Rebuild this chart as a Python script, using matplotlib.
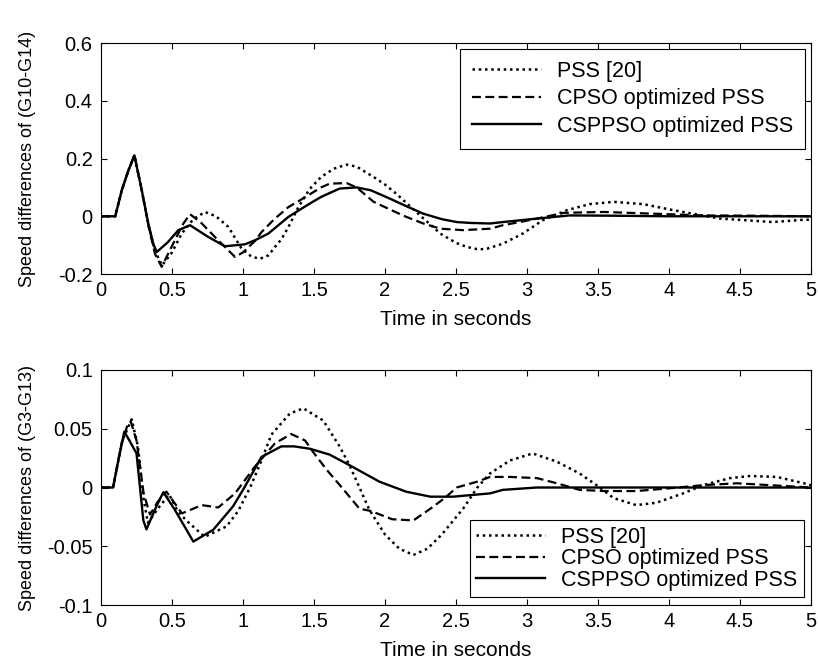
import matplotlib
matplotlib.use("Agg")
import matplotlib.pyplot as plt
from matplotlib.ticker import FuncFormatter

plt.rcParams["font.family"] = ["Liberation Sans", "DejaVu Sans"]
plt.rcParams["font.size"] = 14

# top panel: speed difference G10-G14
top_pss_t = [0, 0.1, 0.146, 0.193, 0.235, 0.287, 0.333, 0.38, 0.43, 0.5, 0.568, 0.65, 0.732,
             0.81, 0.897, 0.99, 1.06, 1.12, 1.18, 1.225, 1.27, 1.32, 1.39, 1.47, 1.55, 1.64,
             1.73, 1.8, 1.92, 2.0, 2.08, 2.22, 2.39, 2.5, 2.575, 2.66, 2.72, 2.83, 2.97, 3.11,
             3.28, 3.44, 3.61, 3.82, 4.01, 4.19, 4.36, 4.55, 4.73, 4.95, 5.0]
top_pss_v = [0, 0, 0.09, 0.159, 0.211, 0.09, -0.03, -0.12, -0.17, -0.125, -0.06, -0.01, 0.015,
             0.0, -0.037, -0.112, -0.14, -0.147, -0.135, -0.106, -0.08, -0.037, 0.032, 0.095,
             0.136, 0.165, 0.179, 0.172, 0.136, 0.11, 0.078, 0.015, -0.06, -0.092, -0.106,
             -0.115, -0.112, -0.095, -0.06, -0.014, 0.021, 0.042, 0.05, 0.042, 0.023, 0.007,
             -0.008, -0.014, -0.02, -0.012, -0.012]

top_cpso_t = [0, 0.1, 0.146, 0.193, 0.235, 0.287, 0.333, 0.38, 0.427, 0.52, 0.58, 0.627, 0.7,
              0.803, 0.944, 1.0, 1.085, 1.13, 1.22, 1.32, 1.4, 1.55, 1.61, 1.73, 1.8, 1.92,
              2.05, 2.15, 2.27, 2.39, 2.55, 2.74, 2.83, 2.95, 3.07, 3.26, 3.54, 3.89, 4.24,
              4.6, 5.0]
top_cpso_v = [0, 0, 0.09, 0.159, 0.211, 0.09, -0.03, -0.13, -0.175, -0.083, -0.025, 0.007,
              -0.02, -0.072, -0.141, -0.125, -0.085, -0.055, -0.01, 0.032, 0.055, 0.1, 0.113,
              0.115, 0.1, 0.05, 0.02, -0.002, -0.025, -0.043, -0.048, -0.043, -0.031, -0.02,
              -0.008, 0.012, 0.015, 0.009, 0.003, 0.002, 0.0]

top_csppso_t = [0, 0.1, 0.146, 0.193, 0.235, 0.287, 0.333, 0.368, 0.392, 0.47, 0.545, 0.627,
                0.75, 0.873, 1.014, 1.085, 1.178, 1.32, 1.47, 1.55, 1.68, 1.8, 1.9, 2.035,
                2.15, 2.27, 2.4, 2.505, 2.6, 2.74, 2.83, 2.95, 3.07, 3.3, 3.6, 4.0, 5.0]
top_csppso_v = [0, 0, 0.09, 0.159, 0.211, 0.09, -0.025, -0.095, -0.124, -0.09, -0.048, -0.031,
                -0.07, -0.104, -0.097, -0.083, -0.06, -0.002, 0.044, 0.067, 0.096, 0.1, 0.09,
                0.061, 0.035, 0.009, -0.01, -0.02, -0.023, -0.025, -0.02, -0.014, -0.008,
                0.003, 0.002, 0.0, 0.0]

# bottom panel: speed difference G3-G13
bot_pss_t = [0, 0.085, 0.15, 0.216, 0.26, 0.3, 0.33, 0.4, 0.48, 0.54, 0.6, 0.73, 0.885, 0.966,
             1.05, 1.12, 1.2, 1.33, 1.425, 1.565, 1.68, 1.75, 1.82, 1.89, 2.0, 2.1, 2.2, 2.3,
             2.4, 2.55, 2.65, 2.74, 2.88, 3.04, 3.21, 3.37, 3.49, 3.61, 3.77, 3.91, 4.1, 4.24,
             4.43, 4.57, 4.76, 4.95, 5.0]
bot_pss_v = [0, 0, 0.04, 0.058, 0.035, -0.01, -0.03, -0.018, -0.006, -0.02, -0.028, -0.042,
             -0.033, -0.02, 0.0, 0.02, 0.045, 0.063, 0.0674, 0.057, 0.035, 0.019, 0.0, -0.019,
             -0.04, -0.052, -0.0574, -0.052, -0.04, -0.018, 0.0, 0.012, 0.023, 0.029, 0.022,
             0.012, 0.002, -0.009, -0.015, -0.013, -0.005, 0.002, 0.008, 0.0098, 0.009,
             0.0036, 0.002]

bot_cpso_t = [0, 0.085, 0.14, 0.19, 0.21, 0.25, 0.3, 0.345, 0.4, 0.46, 0.57, 0.71, 0.826,
              0.944, 1.085, 1.225, 1.34, 1.437, 1.495, 1.59, 1.71, 1.82, 1.9, 2.05, 2.2, 2.32,
              2.42, 2.505, 2.65, 2.74, 2.88, 3.07, 3.21, 3.37, 3.54, 3.77, 4.0, 4.24, 4.48,
              4.71, 5.0]
bot_cpso_v = [0, 0, 0.035, 0.0546, 0.056, 0.04, -0.005, -0.023, -0.012, -0.0035, -0.022,
              -0.015, -0.017, -0.005, 0.018, 0.0376, 0.0455, 0.04, 0.03, 0.015, -0.002, -0.018,
              -0.02, -0.027, -0.028, -0.018, -0.009, 0.0, 0.005, 0.009, 0.009, 0.008, 0.0036,
              -0.002, -0.003, -0.003, -0.0007, 0.002, 0.0036, 0.002, 0.0]

bot_csppso_t = [0, 0.085, 0.125, 0.164, 0.2, 0.25, 0.298, 0.32, 0.39, 0.439, 0.52, 0.65, 0.79,
                0.93, 1.0, 1.13, 1.27, 1.36, 1.47, 1.61, 1.75, 1.96, 2.15, 2.32, 2.48, 2.74,
                2.83, 3.07, 5.0]
bot_csppso_v = [0, 0, 0.025, 0.0475, 0.04, 0.029, -0.028, -0.0356, -0.016, -0.004, -0.019,
                -0.046, -0.036, -0.016, -0.002, 0.026, 0.035, 0.035, 0.033, 0.028, 0.019, 0.005,
                -0.0036, -0.0078, -0.0078, -0.005, -0.002, 0.0, 0.0]

labels = ["PSS [20]", "CPSO optimized PSS", "CSPPSO optimized PSS"]

fig = plt.figure(figsize=(8.18, 6.6), dpi=100)
ax1 = fig.add_axes([0.1235, 0.5848, 0.8679, 0.35])
ax2 = fig.add_axes([0.1235, 0.0833, 0.8679, 0.3561])


def draw_panel(ax, series, ylim, yticks, ylabel, legend_loc, anchor, spacing, pad):
    styles = [
        dict(linestyle=(0, (1, 1.5)), linewidth=1.8),
        dict(linestyle=(0, (4, 2)), linewidth=1.6),
        dict(linestyle="-", linewidth=1.7),
    ]
    for (t, v), label, style in zip(series, labels, styles):
        ax.plot(t, v, color="black", label=label, **style)
    ax.set_xlim(0, 5)
    ax.set_ylim(*ylim)
    ax.set_xticks([i * 0.5 for i in range(11)])
    ax.set_yticks(yticks)
    ax.xaxis.set_major_formatter(FuncFormatter(lambda x, _: f"{x:g}"))
    ax.yaxis.set_major_formatter(FuncFormatter(lambda y, _: f"{y:g}"))
    ax.tick_params(direction="in", top=True, right=True, length=4.5, width=0.8,
                   labelsize=14.5)
    ax.tick_params(axis="x", pad=5)
    ax.tick_params(axis="y", pad=6)
    for spine in ax.spines.values():
        spine.set_linewidth(0.8)
    ax.set_xlabel("Time in seconds", fontsize=15)
    ax.set_ylabel(ylabel, fontsize=13)
    ax.xaxis.set_label_coords(0.5, -0.155)
    ax.yaxis.set_label_coords(-0.092, 0.5)
    leg = ax.legend(loc=legend_loc, bbox_to_anchor=anchor, fancybox=False,
                    edgecolor="black", framealpha=1, fontsize=15.5, handlelength=3.2,
                    handletextpad=0.75, borderpad=pad, labelspacing=spacing,
                    borderaxespad=0)
    leg.get_frame().set_linewidth(0.8)


draw_panel(ax1,
           [(top_pss_t, top_pss_v), (top_cpso_t, top_cpso_v),
            (top_csppso_t, top_csppso_v)],
           (-0.2, 0.6), [-0.2, 0, 0.2, 0.4, 0.6], "Speed differences of (G10-G14)",
           "upper right", (0.9915, 0.974), 0.3, 0.55)
draw_panel(ax2,
           [(bot_pss_t, bot_pss_v), (bot_cpso_t, bot_cpso_v),
            (bot_csppso_t, bot_csppso_v)],
           (-0.1, 0.1), [-0.1, -0.05, 0, 0.05, 0.1], "Speed differences of (G3-G13)",
           "lower right", (0.99, 0.034), 0.02, 0.3)

fig.savefig("out.png", dpi=100)
